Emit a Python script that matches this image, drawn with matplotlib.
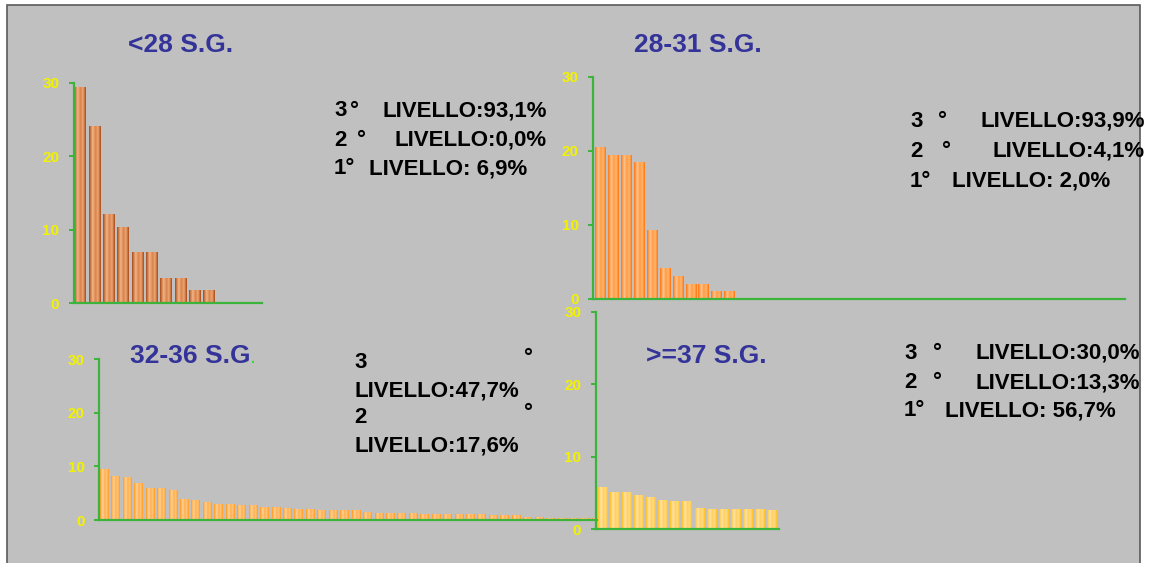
import numpy as np
import matplotlib
matplotlib.use("Agg")
import matplotlib.pyplot as plt
from matplotlib.patches import Rectangle
from matplotlib.colors import LinearSegmentedColormap

W, H, DPI = 1153, 563, 100

# ---- data -------------------------------------------------------------
titles = ["<28 S.G.", "28-31 S.G.", "32-36 S.G", ">=37 S.G."]

vals_lt28 = [29.3, 24.1, 12.1, 10.3, 6.9, 6.9, 3.4, 3.4, 1.7, 1.7]
vals_28_31 = [20.4, 19.4, 19.4, 18.4, 9.2, 4.1, 3.1, 2.0, 2.0, 1.0, 1.0]
vals_32_36 = [9.4, 8.2, 8.0, 6.8, 5.8, 5.8, 5.6, 3.9, 3.7, 3.2, 2.9, 2.9,
              2.7, 2.7, 2.4, 2.4, 2.2, 1.9, 1.9, 1.7, 1.7, 1.7, 1.7, 1.4,
              1.2, 1.2, 1.2, 1.2, 1.0, 1.0, 1.0, 1.0, 1.0, 1.1, 0.75, 0.75,
              0.75, 0.55, 0.55, 0.3, 0.3, 0.3, 0.3, 0.3]
vals_ge37 = [5.7, 5.1, 5.0, 4.6, 4.4, 3.9, 3.8, 3.8, 2.8, 2.7, 2.7, 2.7,
             2.7, 2.7, 2.5]

y_ticks = [0, 10, 20, 30]

levels_lt28 = [("3", "LIVELLO:93,1%"), ("2", "LIVELLO:0,0%"), ("1", "LIVELLO: 6,9%")]
levels_28_31 = [("3", "LIVELLO:93,9%"), ("2", "LIVELLO:4,1%"), ("1", "LIVELLO: 2,0%")]
levels_32_36 = [("3", "LIVELLO:47,7%"), ("2", "LIVELLO:17,6%")]
levels_ge37 = [("3", "LIVELLO:30,0%"), ("2", "LIVELLO:13,3%"), ("1", "LIVELLO: 56,7%")]

# ---- style ------------------------------------------------------------
BG = "#C0C0C0"
GREEN = "#3CB43C"
YELLOW = "#F2F200"
NAVY = "#333399"
TITLE_FONT = dict(family="Liberation Sans", weight="bold", size=19, color=NAVY)
LEVEL_FONT = dict(family="Liberation Sans", weight="bold", size=16, color="black")

bar_shades = {
    "copper": ["#A84A1A", "#F4B586", "#D8824C", "#EFA874", "#A84A1A"],
    "orange": ["#FF7410", "#FFC58E", "#FF9A42", "#FFB870", "#FF7410"],
    "amber":  ["#FF9A1E", "#FFD29A", "#FFB04E", "#FFC680", "#FF9A1E"],
    "gold":   ["#FFC21E", "#FFE2AA", "#FFD060", "#FFDA88", "#FFC21E"],
}
stops = [0.0, 0.3, 0.55, 0.75, 1.0]

fig = plt.figure(figsize=(W / DPI, H / DPI), dpi=DPI, facecolor="white")
fig.patches.append(Rectangle((7 / W, -0.02), (1140 - 7) / W, 1.02 - 5 / H,
                             transform=fig.transFigure, facecolor=BG,
                             edgecolor="#5A5A5A", lw=1.2, zorder=-10))


def px_axes(x_left, y_top, x_right, y_zero):
    return fig.add_axes([x_left / W, 1 - y_zero / H,
                         (x_right - x_left) / W, (y_zero - y_top) / H])


def panel(ax, vals, width, shade, xlim):
    cmap = LinearSegmentedColormap.from_list(
        shade, list(zip(stops, bar_shades[shade])))
    grad = np.linspace(0, 1, 64)[None, :]
    x = np.arange(len(vals))
    bars = ax.bar(x, vals, width, color=bar_shades[shade][2], zorder=2)
    for b in bars:
        x0, w, h = b.get_x(), b.get_width(), b.get_height()
        ax.imshow(grad, extent=(x0, x0 + w, 0, h), aspect="auto", cmap=cmap,
                  interpolation="bilinear", zorder=3)
    ax.set_xlim(*xlim)
    ax.set_ylim(0, 30)
    ax.set_facecolor("none")
    for s in ("top", "right"):
        ax.spines[s].set_visible(False)
    for s in ("left", "bottom"):
        ax.spines[s].set_color(GREEN)
        ax.spines[s].set_linewidth(1.6)
        ax.spines[s].set_zorder(4)
    ax.set_xticks([])
    ax.set_yticks(y_ticks)
    ax.tick_params(axis="y", color=GREEN, length=3.6, width=1.4, pad=7,
                   labelcolor=YELLOW)
    for lab in ax.get_yticklabels():
        lab.set_fontfamily("Liberation Sans")
        lab.set_fontweight("bold")
        lab.set_fontsize(11)


ax3 = px_axes(99.3, 359.3, 602, 520)
panel(ax3, vals_32_36, 0.76, "amber", (-0.43, 43.5))

ax1 = px_axes(74, 83, 262, 303.3)
panel(ax1, vals_lt28, 0.8, "copper", (-0.42, 12.7))

ax2 = px_axes(593.3, 76.7, 1125, 299)
panel(ax2, vals_28_31, 0.81, "orange", (-0.52, 40.5))

ax4 = px_axes(596, 311.7, 779, 529.3)
panel(ax4, vals_ge37, 0.79, "gold", (-0.56, 14.6))


def ftext(x, y, s, ha="left", **kw):
    fig.text(x / W, 1 - y / H, s, ha=ha, va="baseline", **kw)


# titles
ftext(180.5, 52, titles[0], ha="center", **TITLE_FONT)
ftext(698, 52, titles[1], ha="center", **TITLE_FONT)
ftext(130, 362.7, titles[2], **TITLE_FONT)
ftext(251, 362.7, ".", family="Liberation Sans", weight="bold", size=10,
      color="#33DD33")
ftext(646, 362.7, titles[3], **TITLE_FONT)


def level_block(levels, x_num, deg_x, right_x, last_x, baselines):
    for k, (num, lab) in enumerate(levels):
        yb = baselines[k]
        if k < len(levels) - 1:
            ftext(x_num, yb, num, **LEVEL_FONT)
            ftext(deg_x[k], yb, "°", **LEVEL_FONT)
            ftext(right_x, yb, lab, ha="right", **LEVEL_FONT)
        else:
            ftext(x_num, yb, num + "°", **LEVEL_FONT)
            ftext(last_x, yb, lab, **LEVEL_FONT)


level_block(levels_lt28, 334, [350, 357], 547, 369, [116.5, 146, 174])
level_block(levels_28_31, 910, [938, 942], 1145, 952, [127, 157, 187])
level_block(levels_ge37, 904, [933, 933], 1140, 945, [359, 388, 416])

# two-line layout for the 32-36 block
for k, (num, lab) in enumerate(levels_32_36):
    y0 = 368.3 + k * 55
    ftext(354, y0, num, **LEVEL_FONT)
    ftext(524, y0 - 4, "°", **LEVEL_FONT)
    ftext(354, y0 + 28.4, lab, **LEVEL_FONT)

fig.savefig("out.png", dpi=DPI, facecolor="white")
